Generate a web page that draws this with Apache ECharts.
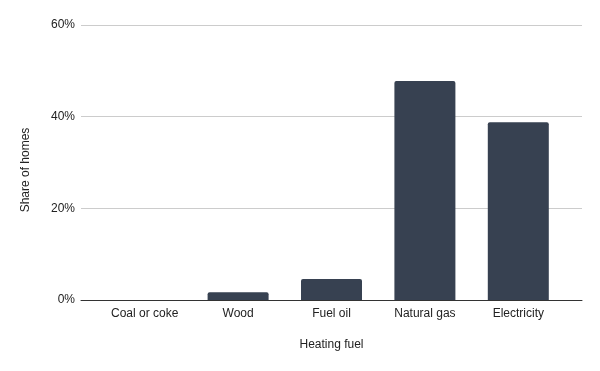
<!DOCTYPE html>
<html>
<head>
<meta charset="utf-8">
<script src="https://cdn.jsdelivr.net/npm/echarts@6/dist/echarts.min.js"></script>
<style>html,body{margin:0;padding:0;background:#fff}#c{width:600px;height:371px}</style>
</head>
<body>
<div id="c"></div>
<script>
const categories = ["Coal or coke", "Wood", "Fuel oil", "Natural gas", "Electricity"];
const shareOfHomes = [0, 1.7, 4.6, 47.8, 38.8];
const yTicks = [0, 20, 40, 60];

const chart = echarts.init(document.getElementById('c'), null, {renderer: 'canvas'});
const font = 'Liberation Sans, Arial, sans-serif';
chart.setOption({
  animation: false,
  backgroundColor: '#fff',
  grid: [
    {left: 81, right: 18, top: 25, bottom: 71},
    {left: 98, right: 35, top: 25, bottom: 71}
  ],
  xAxis: [
    {type: 'category', gridIndex: 0, data: [''], axisLine: {show: true, lineStyle: {color: '#333', width: 1}},
     axisTick: {show: false}, axisLabel: {show: false}, splitLine: {show: false}},
    {type: 'category', gridIndex: 1, data: categories, axisLine: {show: false}, axisTick: {show: false},
     axisLabel: {color: '#222', fontSize: 12, fontFamily: font, margin: 8}}
  ],
  yAxis: [
    {type: 'value', gridIndex: 0, min: yTicks[0], max: yTicks[yTicks.length - 1], interval: 20,
     axisLine: {show: false}, axisTick: {show: false},
     axisLabel: {formatter: '{value}%', color: '#222', fontSize: 12, fontFamily: font, margin: 6},
     splitLine: {lineStyle: {color: '#cccccc', width: 1}}},
    {type: 'value', gridIndex: 1, min: yTicks[0], max: yTicks[yTicks.length - 1], interval: 20, show: false}
  ],
  graphic: [
    {type: 'text', x: 26, y: 170, rotation: Math.PI / 2, style: {text: 'Share of homes', fill: '#222', font: '12px ' + font, textAlign: 'center', textVerticalAlign: 'middle'}},
    {type: 'text', x: 331.5, y: 345, style: {text: 'Heating fuel', fill: '#222', font: '12px ' + font, textAlign: 'center', textVerticalAlign: 'middle'}}
  ],
  series: [{
    type: 'bar', xAxisIndex: 1, yAxisIndex: 1, data: shareOfHomes, barWidth: 61,
    itemStyle: {color: '#374151', borderRadius: [2, 2, 0, 0]}
  }]
});
</script>
</body>
</html>
